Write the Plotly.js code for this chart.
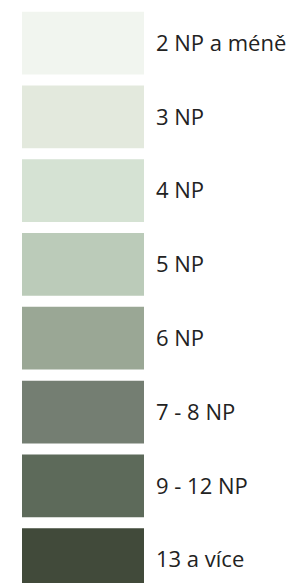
<!DOCTYPE html>
<html>
<head>
<meta charset="utf-8">
<script src="https://cdn.plot.ly/plotly-3.0.1.min.js"></script>
<style>html,body{margin:0;padding:0;background:#fff;}#chart{width:300px;height:583px;}</style>
</head>
<body>
<div id="chart"></div>
<script>
const categories = ["2 NP a méně", "3 NP", "4 NP", "5 NP", "6 NP", "7 - 8 NP", "9 - 12 NP", "13 a více"];
const values = [1, 1, 1, 1, 1, 1, 1, 1];
const colors = ["#f1f5ef", "#e3e9dd", "#d5e2d3", "#bbcbb9", "#9aa795", "#747e72", "#5d6a5a", "#414a3a"];

const trace = {
  type: "bar",
  orientation: "h",
  x: values,
  y: categories,
  marker: {color: colors, line: {width: 0}},
  width: 0.85,
  hoverinfo: "skip"
};

const layout = {
  width: 300,
  height: 583,
  margin: {l: 22, r: 156, t: 0, b: 0, pad: 0},
  paper_bgcolor: "#ffffff",
  plot_bgcolor: "#ffffff",
  showlegend: false,
  xaxis: {visible: false, range: [0, 1], fixedrange: true},
  yaxis: {
    type: "category",
    side: "right",
    range: [7.317, -0.583],
    autorange: false,
    showgrid: false,
    zeroline: false,
    showline: false,
    ticks: "",
    ticklabelstandoff: 11,
    tickfont: {family: "Open Sans", size: 22, color: "#222222"},
    fixedrange: true
  }
};

Plotly.newPlot("chart", [trace], layout, {staticPlot: true, displayModeBar: false});
</script>
</body>
</html>
